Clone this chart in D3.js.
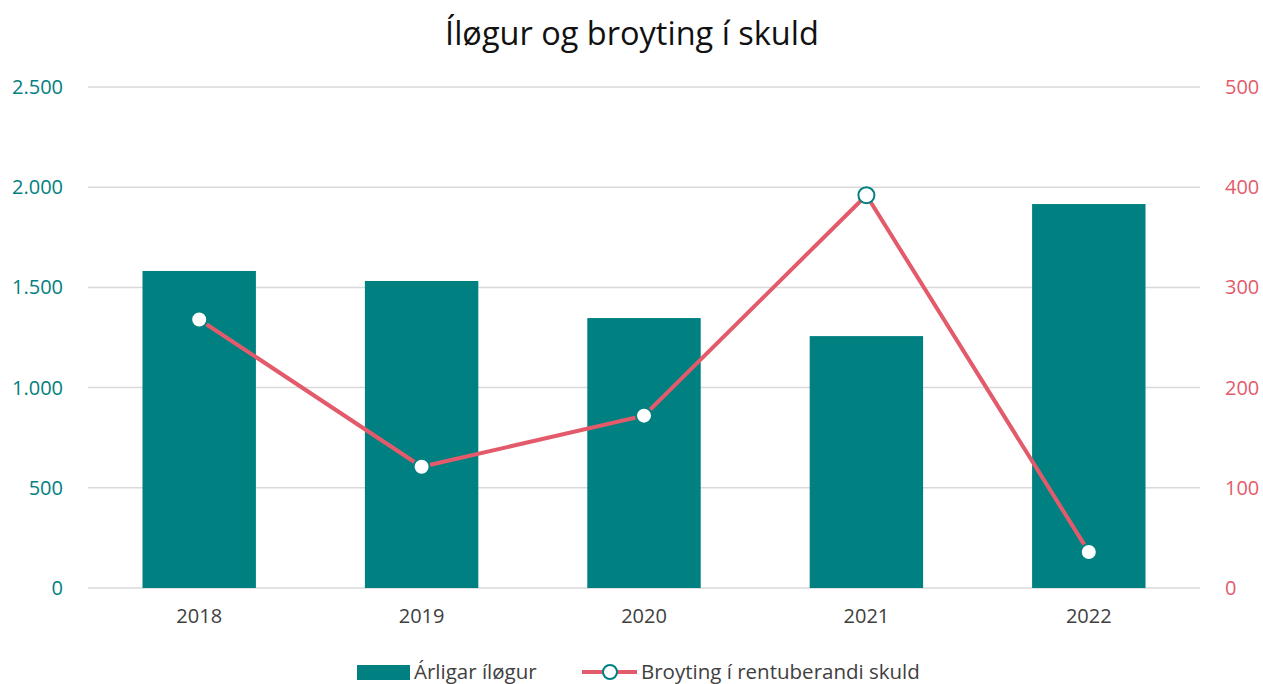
<!DOCTYPE html>
<html><head><meta charset="utf-8">
<script src="https://cdn.jsdelivr.net/npm/d3@7"></script>
<style>body{margin:0;background:#fff;font-family:"Open Sans",sans-serif;}</style>
</head><body><svg id="c" width="1263" height="684"></svg>
<script>
const categories = ["2018","2019","2020","2021","2022"];
const arligarIlogur = [1582, 1532, 1347, 1257, 1916];
const broyting = [268, 121, 172, 392, 36];
const leftTicks = [0,500,1000,1500,2000,2500];
const rightTicks = [0,100,200,300,400,500];
const seriesNames = ["Árligar íløgur","Broyting í rentuberandi skuld"];
const title = "Íløgur og broyting í skuld";

const teal = "#008080", red = "#E35B6B";
const svg = d3.select("#c");
const m = {l:88, r:1200, t:87, b:588};
const x = d3.scaleBand().domain(categories).range([m.l, m.r]).paddingInner(0.49).paddingOuter(0.245);
const yL = d3.scaleLinear().domain([0,2500]).range([m.b, m.t]);
const yR = d3.scaleLinear().domain([0,500]).range([m.b, m.t]);
const fmt = d3.formatLocale({decimal:",", thousands:".", grouping:[3], currency:["",""]}).format(",d");

svg.append("text").attr("x", 632).attr("y", 45).attr("text-anchor","middle")
  .attr("font-size", 32.5).attr("fill","#111").text(title);

// gridlines
svg.append("g").selectAll("line").data(leftTicks).join("line")
  .attr("x1", m.l).attr("x2", m.r).attr("y1", d=>yL(d)).attr("y2", d=>yL(d))
  .attr("stroke","#d9d9d9").attr("stroke-width",1.5);

// left axis
const gl = svg.append("g").attr("transform",`translate(${m.l},0)`)
  .call(d3.axisLeft(yL).tickValues(leftTicks).tickFormat(fmt).tickSize(0).tickPadding(25));
gl.select(".domain").remove();
gl.selectAll("text").attr("font-size",20).attr("fill", teal).attr("font-family","Open Sans");
const gr = svg.append("g").attr("transform",`translate(${m.r},0)`)
  .call(d3.axisRight(yR).tickValues(rightTicks).tickFormat(fmt).tickSize(0).tickPadding(25));
gr.select(".domain").remove();
gr.selectAll("text").attr("font-size",20).attr("fill", red).attr("font-family","Open Sans");
const gx = svg.append("g").attr("transform",`translate(0,${m.b})`)
  .call(d3.axisBottom(x).tickSize(0).tickPadding(21));
gx.select(".domain").remove();
gx.selectAll("text").attr("font-size",20).attr("fill","#404040").attr("font-family","Open Sans");

// bars
svg.append("g").selectAll("rect").data(categories).join("rect")
  .attr("x", d=>x(d)).attr("width", x.bandwidth())
  .attr("y", (d,i)=>yL(arligarIlogur[i])).attr("height",(d,i)=>yL(0)-yL(arligarIlogur[i]))
  .attr("fill", teal);

// line
const line = d3.line().x((d,i)=>x(categories[i])+x.bandwidth()/2).y(d=>yR(d));
svg.append("path").datum(broyting).attr("d", line).attr("fill","none")
  .attr("stroke", red).attr("stroke-width",4);
svg.append("g").selectAll("circle").data(broyting).join("circle")
  .attr("cx",(d,i)=>x(categories[i])+x.bandwidth()/2).attr("cy", d=>yR(d)).attr("r",8)
  .attr("fill","#fff").attr("stroke", teal).attr("stroke-width",2);

// legend
const lg = svg.append("g");
lg.append("rect").attr("x",357).attr("y",665).attr("width",53).attr("height",15).attr("fill",teal);
lg.append("text").attr("x",414).attr("y",679).attr("font-size",20.5).attr("fill","#404040").text(seriesNames[0]);
lg.append("line").attr("x1",582).attr("x2",637).attr("y1",672).attr("y2",672).attr("stroke",red).attr("stroke-width",4);
lg.append("circle").attr("cx",610).attr("cy",672).attr("r",7).attr("fill","#fff").attr("stroke",teal).attr("stroke-width",2);
lg.append("text").attr("x",641).attr("y",679).attr("font-size",20.5).attr("fill","#404040").text(seriesNames[1]);
</script></body></html>
